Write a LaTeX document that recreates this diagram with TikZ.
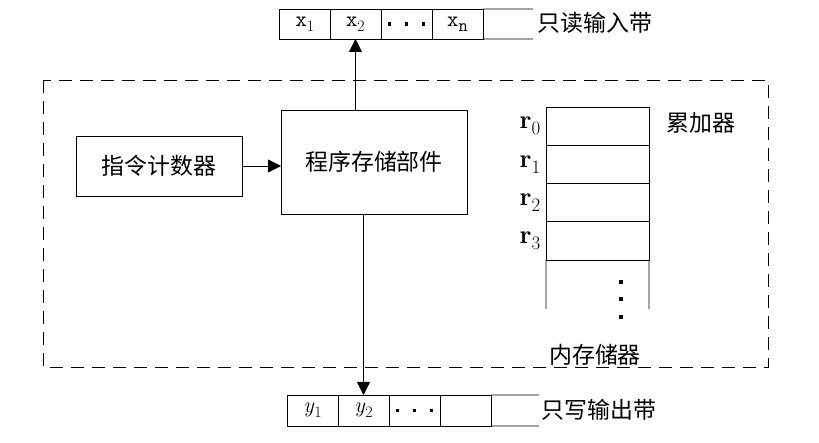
\documentclass[tikz,border=0pt]{standalone}
\usepackage{fontspec}
\newfontfamily\cjk{Noto Sans CJK SC}
\newcommand{\tapesub}[3]{\raisebox{-#1}{\fontsize{#2}{#2}\selectfont #3}}
\usetikzlibrary{arrows.meta}
\tikzset{
	box/.style={draw,inner sep=0pt,outer sep=0pt,font=\cjk\fontsize{23}{28}\selectfont},
	cell/.style={draw,minimum width=51bp,minimum height=30bp,inner sep=0pt,outer sep=0pt,font=\fontsize{22}{24}\selectfont},
	memcell/.style={draw,minimum width=103bp,minimum height=38.25bp,inner sep=0pt,outer sep=0pt,
		label={[font=\fontsize{26}{28}\selectfont,label distance=2bp]180:{\textbf{r}\tapesub{6bp}{19}{#1}}},name=m#1},
	sq/.style={fill,inner sep=0pt,minimum size=3.5bp},
	txt/.style={inner sep=0pt,font=\cjk\fontsize{23}{28}\selectfont},
	arr/.style={-{Triangle[length=13bp,width=13bp]}},
	frame/.style={dash pattern=on 13bp off 8bp}
}
\begin{document}
\begin{tikzpicture}[x=1bp,y=-1bp,line width=0.8bp]
	\useasboundingbox (0,0) rectangle (819,443);
	% input tape
	\node [cell] (x1) at (305,24) {\texttt{x}\tapesub{5bp}{16}{1}};
	\node [cell] (x2) at (355.5,24) {\texttt{x}\tapesub{5bp}{16}{2}};
	\node [cell] (xd) at (406.5,24) {};
	\node [cell] (xn) at (457.5,24) {\texttt{x}\tapesub{5bp}{18}{\texttt{n}}};
	\coordinate (xe1) at (533,9);
	\coordinate (xe2) at (533,39);
	\draw (xn.north east) -- (xe1);
	\draw (xn.south east) -- (xe2);
	\foreach \d in {-17,0,17}
		\node [sq] at ([xshift=\d bp]xd.center) {};
	\node [txt,anchor=west] (intape) at (537,23) {只读输入带};

	% control
	\node [box,minimum width=166bp,minimum height=60bp] (pc) at (159,166) {指令计数器};
	\node [box,minimum width=186bp,minimum height=104bp] (psu) at (374,162) {程序存储部件};
	\draw [arr] (pc.east) -- (pc.east -| psu.west);

	% memory
	\node [memcell=0] at (597.5,126.1) {};
	\node [memcell=1] at (597.5,164.4) {};
	\node [memcell=2] at (597.5,202.6) {};
	\node [memcell=3] at (597.5,240.9) {};
	\coordinate (me1) at (546,309);
	\coordinate (me2) at (649,309);
	\draw (m3.south west) -- (me1);
	\draw (m3.south east) -- (me2);
	\foreach \y in {282,299,317}
		\node [sq] at (621,\y) {};
	\node [txt,anchor=west] (acc) at (666,123) {累加器};
	\node [txt] (mem) at (595,355) {内存储器};

	\draw [frame] (43,80) rectangle (768,367);

	% output tape
	\node [cell,minimum height=31bp] (y1) at (312.5,410.5) {\textit{y}\tapesub{5bp}{16}{1}};
	\node [cell,minimum height=31bp] (y2) at (363.5,410.5) {\textit{y}\tapesub{5bp}{16}{2}};
	\node [cell,minimum height=31bp] (yd) at (414.5,410.5) {};
	\node [cell,minimum height=31bp] (y4) at (465.5,410.5) {};
	\coordinate (ye1) at (539,395);
	\coordinate (ye2) at (539,426);
	\draw (y4.north east) -- (ye1);
	\draw (y4.south east) -- (ye2);
	\foreach \d in {-17,0,17}
		\node [sq] at ([xshift=\d bp]yd.center) {};
	\node [txt,anchor=west] (outtape) at (541,410) {只写输出带};

	\draw [arr] (psu.north -| x2.south) -- (x2.south);
	\draw [arr] (psu.south -| y2.north) -- (y2.north);
\end{tikzpicture}
\end{document}
